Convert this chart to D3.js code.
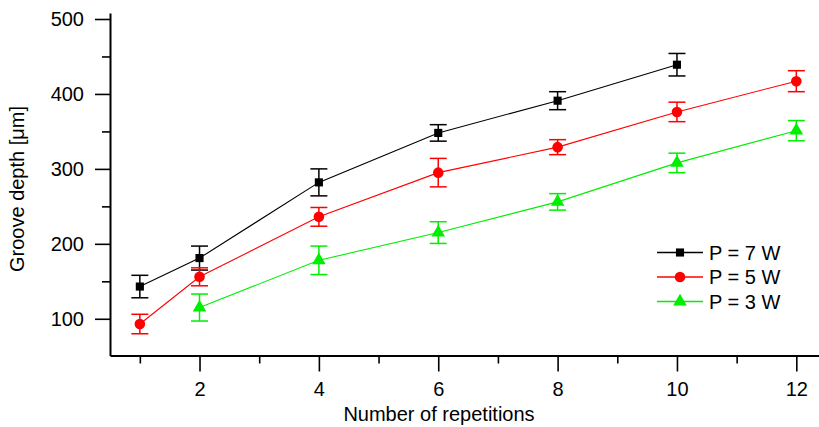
<!DOCTYPE html>
<html>
<head>
<meta charset="utf-8">
<script src="https://cdn.jsdelivr.net/npm/d3@7"></script>
<style>
  body { margin: 0; background: #fff; }
  svg { display: block; }
  svg text { font-family: "Liberation Sans", Arial, sans-serif; }
</style>
</head>
<body>
<div id="chart"></div>
<script>
  // values
  var reps7 = [1, 2, 4, 6, 8, 10];
  var depth7 = [143, 181, 282, 348, 391, 439];
  var err7 = [15, 16, 18, 11, 12, 15];

  var reps5 = [1, 2, 4, 6, 8, 10, 12];
  var depth5 = [93, 156, 236, 295, 329, 376, 417];
  var err5 = [13, 12, 12.5, 19, 10, 13, 14];

  var reps3 = [2, 4, 6, 8, 10, 12];
  var depth3 = [115, 178, 215, 256, 308, 351];
  var err3 = [18, 19, 14.5, 11, 13, 13.5];

  var seriesNames = ["P = 7 W", "P = 5 W", "P = 3 W"];
  var xTicks = [2, 4, 6, 8, 10, 12];
  var yTicks = [100, 200, 300, 400, 500];

  var width = 819, height = 427;
  var fs = 20;

  var x = d3.scaleLinear().domain([0.5, 12.38]).range([110, 819]);
  var y = d3.scaleLinear().domain([51, 508]).range([355.5, 13]);

  var series = [
    { name: seriesNames[0], color: "#000000", sym: d3.symbolSquare, size: 66, xs: reps7, ys: depth7, es: err7 },
    { name: seriesNames[1], color: "#ff0000", sym: d3.symbolCircle, size: 88, xs: reps5, ys: depth5, es: err5 },
    { name: seriesNames[2], color: "#00ee00", sym: d3.symbolTriangle, size: 80, xs: reps3, ys: depth3, es: err3 }
  ];
  series.forEach(function (s) {
    s.points = s.xs.map(function (v, i) { return { x: v, y: s.ys[i], e: s.es[i] }; });
  });

  var svg = d3.select("#chart").append("svg")
      .attr("width", width)
      .attr("height", height);

  // x axis: major ticks on even numbers, minor on odd
  var xAxis = svg.append("g")
      .attr("transform", "translate(0," + y.range()[0] + ")");
  xAxis.append("g")
      .call(d3.axisBottom(x).tickValues(d3.range(1, 13, 2)).tickSize(8).tickFormat(""))
      .call(function (g) { g.select(".domain").remove(); });
  xAxis.append("g")
      .call(d3.axisBottom(x).tickValues(xTicks).tickSize(16).tickSizeOuter(0).tickPadding(10))
      .call(function (g) {
        g.select(".domain").attr("stroke-width", 2);
        g.selectAll("text").attr("font-size", fs).attr("fill", "#000");
      });
  xAxis.selectAll(".tick line").attr("stroke-width", 1.6);

  // y axis
  var yAxis = svg.append("g")
      .attr("transform", "translate(" + x.range()[0] + ",0)");
  yAxis.append("g")
      .call(d3.axisLeft(y).tickValues(d3.range(150, 500, 100)).tickSize(8).tickFormat(""))
      .call(function (g) { g.select(".domain").remove(); });
  yAxis.append("g")
      .call(d3.axisLeft(y).tickValues(yTicks).tickSize(15).tickSizeOuter(0).tickPadding(11))
      .call(function (g) {
        g.select(".domain").attr("stroke-width", 2);
        g.selectAll("text").attr("font-size", fs).attr("fill", "#000");
      });
  yAxis.selectAll(".tick line").attr("stroke-width", 1.6);

  // titles
  svg.append("text")
      .attr("x", 439).attr("y", 421)
      .attr("text-anchor", "middle")
      .attr("font-size", fs)
      .text("Number of repetitions");

  svg.append("text")
      .attr("transform", "translate(24,189) rotate(-90)")
      .attr("text-anchor", "middle")
      .attr("font-size", fs)
      .text("Groove depth [\u03bcm]");

  var line = d3.line().x(function (d) { return x(d.x); }).y(function (d) { return y(d.y); });

  var g = svg.append("g").selectAll("g").data(series).join("g");

  g.append("path")
      .attr("d", function (s) { return line(s.points); })
      .attr("fill", "none")
      .attr("stroke", function (s) { return s.color; })
      .attr("stroke-width", 1.1);

  // error bars
  var eb = g.selectAll(".eb")
    .data(function (s) { return s.points.map(function (p) { return Object.assign({ c: s.color }, p); }); })
    .join("g")
      .attr("class", "eb")
      .attr("stroke", function (d) { return d.c; })
      .attr("stroke-width", 1.5);
  eb.append("line")
      .attr("x1", function (d) { return x(d.x); }).attr("x2", function (d) { return x(d.x); })
      .attr("y1", function (d) { return y(d.y + d.e); }).attr("y2", function (d) { return y(d.y - d.e); });
  eb.append("line")
      .attr("x1", function (d) { return x(d.x) - 8.5; }).attr("x2", function (d) { return x(d.x) + 8.5; })
      .attr("y1", function (d) { return y(d.y + d.e); }).attr("y2", function (d) { return y(d.y + d.e); });
  eb.append("line")
      .attr("x1", function (d) { return x(d.x) - 8.5; }).attr("x2", function (d) { return x(d.x) + 8.5; })
      .attr("y1", function (d) { return y(d.y - d.e); }).attr("y2", function (d) { return y(d.y - d.e); });

  // markers
  g.each(function (s) {
    d3.select(this).selectAll(".mk")
      .data(s.points)
      .join("path")
        .attr("class", "mk")
        .attr("d", d3.symbol(s.sym, s.size))
        .attr("transform", function (d) { return "translate(" + x(d.x) + "," + y(d.y) + ")"; })
        .attr("fill", s.color);
  });

  // legend
  var legend = svg.append("g").selectAll("g").data(series).join("g")
      .attr("transform", function (s, i) { return "translate(657," + (252.5 + i * 24.5) + ")"; });
  legend.append("line")
      .attr("x1", 0).attr("x2", 46)
      .attr("stroke", function (s) { return s.color; })
      .attr("stroke-width", 1.3);
  legend.append("path")
      .attr("d", function (s) { return d3.symbol(s.sym, s.size)(); })
      .attr("transform", "translate(23,0)")
      .attr("fill", function (s) { return s.color; });
  legend.append("text")
      .attr("x", 52).attr("dy", "0.36em")
      .attr("font-size", fs)
      .text(function (s) { return s.name; });
</script>
</body>
</html>
